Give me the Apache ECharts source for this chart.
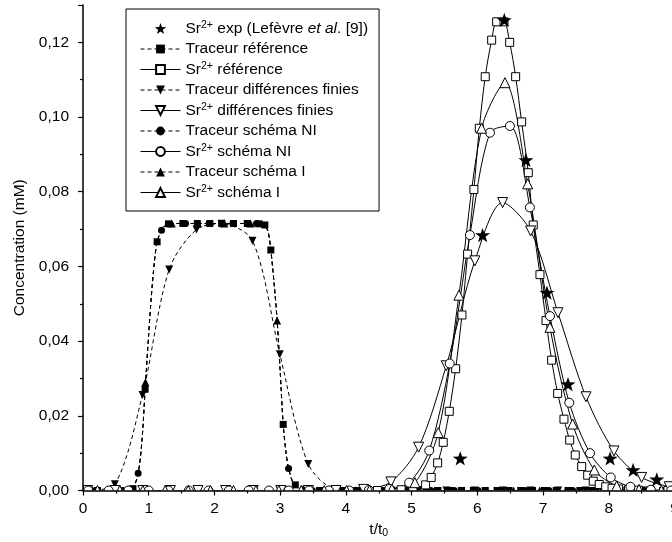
<!DOCTYPE html>
<html>
<head>
<meta charset="utf-8">
<script src="https://cdn.jsdelivr.net/npm/echarts@6/dist/echarts.min.js"></script>
<style>
html, body { margin: 0; padding: 0; background: #fff; }
#chart { width: 672px; height: 542px; }
</style>
</head>
<body>
<div id="chart"></div>
<script>
// tick values
var xTicks = [0, 1, 2, 3, 4, 5, 6, 7, 8, 9];
var yMax = 0.13;

// [t/t0, concentration mM]
var srExp = [[5.74,0.0086],[6.08,0.0684],[6.41,0.126],[6.74,0.0885],[7.06,0.053],[7.38,0.0285],[8.02,0.0086],[8.37,0.0055],[8.73,0.003]];

// tracer breakthrough curve (référence, NI and I lie on the same curve)
var tracerCurve = [[0,0],[0.6,0],[0.75,0.0005],[0.839,0.0046],[0.9,0.014],[0.945,0.027],[1.0,0.042],[1.04,0.052],[1.085,0.061],[1.128,0.0666],[1.195,0.0697],[1.26,0.0711],[1.35,0.0715],[2.6,0.0715],[2.72,0.0714],[2.77,0.0711],[2.82,0.069],[2.858,0.0644],[2.91,0.055],[2.954,0.0455],[3.0,0.032],[3.046,0.0177],[3.09,0.01],[3.128,0.0059],[3.2,0.002],[3.3,0.0005],[3.45,0],[9,0]];

var tracerRefMarks = [[0.04,0],[0.22,0],[0.4,0],[0.58,0],[0.76,0.0005],[0.945,0.0271],[1.128,0.0666],[1.3,0.0714],[1.52,0.0715],[1.74,0.0715],[1.93,0.0715],[2.11,0.0715],[2.29,0.0715],[2.5,0.0715],[2.68,0.0714],[2.767,0.0711],[2.858,0.0644],[3.046,0.0177],[3.23,0.0015],[3.42,0],[3.6,0],[3.78,0],[3.96,0],[4.14,0],[4.32,0],[4.5,0],[4.68,0],[4.86,0],[5.04,0],[5.22,0],[5.4,0],[5.58,0],[5.76,0],[5.94,0],[6.12,0],[6.3,0],[6.48,0],[6.66,0],[6.84,0],[7.02,0],[7.2,0],[7.38,0],[7.56,0],[7.74,0],[7.92,0],[8.1,0],[8.28,0],[8.46,0],[8.64,0],[8.82,0],[9.0,0]];

var tracerNIMarks = [[0.12,0],[0.48,0],[0.839,0.0046],[1.195,0.0697],[1.56,0.0715],[1.92,0.0715],[2.28,0.0715],[2.64,0.0715],[3.128,0.0059],[3.49,0],[3.85,0],[4.21,0],[4.57,0],[4.93,0],[5.29,0],[5.65,0],[6.01,0],[6.37,0],[6.73,0],[7.09,0],[7.45,0],[7.81,0],[8.17,0],[8.53,0],[8.89,0]];

var tracerIMarks = [[0.15,0],[0.55,0],[0.95,0.029],[1.35,0.0715],[1.75,0.0715],[2.15,0.0715],[2.55,0.0715],[2.954,0.0455],[3.35,0.0005],[3.75,0],[4.15,0],[4.55,0],[4.95,0],[5.35,0],[5.75,0],[6.15,0],[6.55,0],[6.95,0],[7.35,0],[7.75,0],[8.15,0],[8.55,0],[8.95,0]];

var tracerDF = [[0.07,0],[0.485,0.0017],[0.905,0.0256],[1.311,0.0592],[1.727,0.0699],[2.108,0.0714],[2.579,0.0669],[2.995,0.0365],[3.427,0.0071],[3.85,0.0003],[4.27,0],[4.69,0],[5.11,0],[5.53,0],[5.96,0],[6.39,0],[6.81,0],[7.23,0],[7.65,0],[8.08,0],[8.5,0],[8.92,0]];

var srRef = [[4.3,0],[4.48,0],[4.66,0],[4.84,0.0002],[5.02,0.0006],[5.213,0.0015],[5.298,0.0035],[5.396,0.0074],[5.481,0.0129],[5.573,0.0212],[5.67,0.0326],[5.766,0.047],[5.852,0.0633],[5.948,0.0806],[6.03,0.097],[6.12,0.1108],[6.218,0.1206],[6.294,0.1255],[6.405,0.1255],[6.492,0.12],[6.583,0.1108],[6.674,0.0987],[6.775,0.0851],[6.851,0.0711],[6.953,0.0578],[7.045,0.0455],[7.131,0.0349],[7.222,0.026],[7.318,0.0191],[7.405,0.0135],[7.49,0.0095],[7.588,0.0064],[7.679,0.0041],[7.764,0.0025],[7.855,0.0016],[7.953,0.001],[8.05,0.0006],[8.15,0.0004],[8.3,0.0002],[8.45,0.0001],[8.63,0],[8.9,0]];

var srDF = [[0.07,0],[0.49,0],[0.91,0],[1.33,0],[1.75,0],[2.17,0],[2.59,0],[3.01,0],[3.43,0],[3.85,0],[4.27,0.0003],[4.685,0.0023],[5.107,0.0116],[5.527,0.0334],[5.963,0.0615],[6.385,0.0771],[6.811,0.0695],[7.227,0.0476],[7.653,0.0251],[8.079,0.0106],[8.5,0.0035],[8.92,0.001]];

var srNI = [[0.08,0],[0.39,0],[0.69,0],[1.0,0],[1.3,0],[1.61,0],[1.91,0],[2.22,0],[2.52,0],[2.83,0],[3.13,0],[3.44,0],[3.74,0],[4.05,0],[4.35,0.0001],[4.66,0.0004],[4.963,0.0021],[5.268,0.0107],[5.58,0.034],[5.887,0.0684],[6.192,0.0958],[6.496,0.0976],[6.8,0.0758],[7.105,0.0467],[7.399,0.0235],[7.714,0.01],[8.03,0.0035],[8.33,0.001],[8.64,0.0002],[8.95,0]];

var srI = [[0.22,0],[0.56,0],[0.91,0],[1.25,0],[1.6,0],[1.94,0],[2.29,0],[2.63,0],[2.98,0],[3.32,0],[3.67,0],[4.01,0],[4.36,0.0001],[4.7,0.0004],[5.05,0.0021],[5.405,0.0155],[5.72,0.0523],[6.065,0.097],[6.42,0.1092],[6.766,0.0821],[7.105,0.0437],[7.45,0.0178],[7.78,0.0055],[8.12,0.0012],[8.46,0.0003],[8.8,0]];

var names = ['Sr2+ exp (Lefèvre et al. [9])', 'Traceur référence', 'Sr2+ référence',
    'Traceur différences finies', 'Sr2+ différences finies', 'Traceur schéma NI',
    'Sr2+ schéma NI', 'Traceur schéma I', 'Sr2+ schéma I'];

var FONT = 'Liberation Sans, Arial, sans-serif';
var FS = 15.5;
var STAR = 'path://M0,-10L2.35,-3.24L9.51,-3.09L3.8,1.24L5.88,8.09L0,4L-5.88,8.09L-3.8,1.24L-9.51,-3.09L-2.35,-3.24Z';
var dashed = { color: '#000', width: 1, type: [4, 3] };
var solid = { color: '#000', width: 1, type: 'solid' };
var filled = { color: '#000', opacity: 1 };
var open = { color: '#fff', borderColor: '#000', borderWidth: 1, opacity: 1 };

function curve(name, data, symbol, size, rotate, fill, line, showSym) {
    return {
        name: name, type: 'line', data: data, smooth: 0.3,
        symbol: symbol, symbolSize: size, symbolRotate: rotate,
        showSymbol: showSym, itemStyle: fill, lineStyle: line, z: 2
    }
}
function marks(data, symbol, size, rotate, fill) {
    return {
        type: 'scatter', data: data, symbol: symbol, symbolSize: size,
        symbolRotate: rotate, itemStyle: fill, z: 2
    }
}

var chart = echarts.init(document.getElementById('chart'));
chart.setOption({
    animation: false,
    backgroundColor: '#fff',
    grid: { left: 83, right: -2.5, top: 5, bottom: 51.5, containLabel: false, outerBoundsMode: 'none' },
    legend: {
        orient: 'vertical', left: 126, top: 9,
        padding: [11, 11, 10, 14], itemGap: 3.5,
        itemWidth: 40, itemHeight: 11,
        backgroundColor: '#fff', borderColor: '#000', borderWidth: 1,
        selectedMode: false, z: 20,
        lineStyle: { width: 1 },
        data: names,
        textStyle: {
            fontFamily: FONT, fontSize: FS, color: '#000', lineHeight: 17,
            rich: {
                sup: { fontSize: 10.5, lineHeight: 8, verticalAlign: 'top', fontFamily: FONT, color: '#000' },
                it: { fontStyle: 'italic', fontSize: FS, fontFamily: FONT, color: '#000' }
            }
        },
        formatter: function (name) {
            if (name.indexOf('Sr2+') !== 0) return name
            var rest = name.slice(4)
            if (rest.indexOf('et al') >= 0) {
                var p = rest.split('et al')
                return 'Sr{sup|2+}' + p[0] + '{it|et al}' + p[1]
            }
            return 'Sr{sup|2+}' + rest
        }
    },
    xAxis: {
        type: 'value', min: 0, max: 9, interval: 1, z: 10,
        name: 't/t{sub|0}', nameLocation: 'middle', nameGap: 25,
        nameTextStyle: {
            fontFamily: FONT, fontSize: FS, color: '#000', lineHeight: 17,
            rich: { sub: { fontSize: 10.5, lineHeight: 6, verticalAlign: 'bottom', fontFamily: FONT, color: '#000' } }
        },
        axisLine: { onZero: false, lineStyle: { color: '#000', width: 1.5 } },
        axisTick: { inside: false, length: 5, lineStyle: { color: '#000', width: 1.2 } },
        minorTick: { show: true, splitNumber: 2, length: 3, lineStyle: { color: '#000', width: 1.2 } },
        axisLabel: { margin: 10, color: '#000', fontSize: FS, fontFamily: FONT },
        splitLine: { show: false }
    },
    yAxis: {
        type: 'value', min: 0, max: yMax, interval: 0.02, z: 10,
        name: 'Concentration (mM)', nameLocation: 'middle', nameGap: 51,
        nameTextStyle: { fontFamily: FONT, fontSize: FS, color: '#000' },
        axisLine: { lineStyle: { color: '#000', width: 1.5 } },
        axisTick: { inside: false, length: 5, lineStyle: { color: '#000', width: 1.2 } },
        minorTick: { show: true, splitNumber: 2, length: 3, lineStyle: { color: '#000', width: 1.2 } },
        axisLabel: {
            margin: 14, color: '#000', fontSize: FS, fontFamily: FONT,
            formatter: function (v) {
                if (Math.abs(v - yMax) < 1e-9) return ''
                return v.toFixed(2).replace('.', ',')
            }
        },
        splitLine: { show: false }
    },
    series: [
        curve(names[1], tracerCurve, 'rect', 7, 0, filled, dashed, false),
        marks(tracerRefMarks, 'rect', 7, 0, filled),
        curve(names[3], tracerDF, 'triangle', 8, 180, filled, dashed, true),
        curve(names[5], tracerCurve, 'circle', 7, 0, filled, dashed, false),
        marks(tracerNIMarks, 'circle', 7, 0, filled),
        curve(names[7], tracerCurve, 'triangle', 8, 0, filled, dashed, false),
        marks(tracerIMarks, 'triangle', 8, 0, filled),
        curve(names[2], srRef, 'rect', 8, 0, open, solid, true),
        curve(names[4], srDF, 'triangle', 10, 180, open, solid, true),
        curve(names[6], srNI, 'circle', 9, 0, open, solid, true),
        curve(names[8], srI, 'triangle', 10, 0, open, solid, true),
        {
            name: names[0], type: 'scatter', data: srExp, symbol: STAR,
            symbolSize: 15, symbolKeepAspect: true, itemStyle: filled, z: 3
        }
    ]
});

// hide the parts of the markers that fall below / left of the axes
var p0 = chart.convertToPixel({ gridIndex: 0 }, [0, 0]);
var p1 = chart.convertToPixel({ gridIndex: 0 }, [9, yMax]);
chart.setOption({
    graphic: [
        { type: 'rect', z: 5, silent: true, shape: { x: p0[0] - 9, y: p0[1], width: 700, height: 8 }, style: { fill: '#fff' } },
        { type: 'rect', z: 5, silent: true, shape: { x: p0[0] - 9, y: p1[1] - 5, width: 9, height: p0[1] - p1[1] + 13 }, style: { fill: '#fff' } }
    ]
});
</script>
</body>
</html>
